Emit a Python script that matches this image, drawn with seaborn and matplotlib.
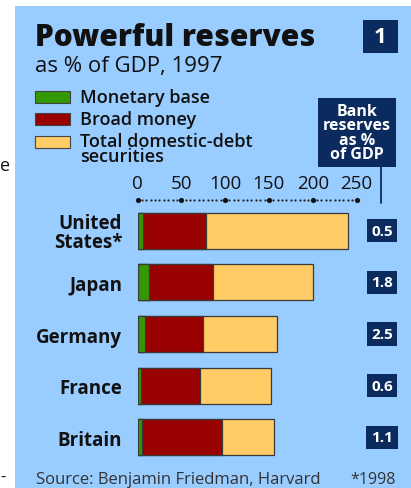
import matplotlib
matplotlib.use("Agg")
import matplotlib.pyplot as plt
import matplotlib.transforms as mtransforms
from matplotlib.patches import Rectangle
import seaborn as sns
import pandas as pd

# ---- data ----
countries = ["United\nStates*", "Japan", "Germany", "France", "Britain"]
monetary_base = [6, 13, 8, 4, 5]
broad_money = [78, 86, 75, 71, 97]
total_debt = [240, 200, 159, 152, 156]
bank_reserves = ["0.5", "1.8", "2.5", "0.6", "1.1"]
ticks = [0, 50, 100, 150, 200, 250]

sns.set_theme(style="white")
plt.rcParams["font.family"] = ["Open Sans", "DejaVu Sans"]

W, H = 411, 489
fig = plt.figure(figsize=(W / 100, H / 100), dpi=100)
fig.patch.set_facecolor("white")

def fx(x):
    return x / W

def fy(y):
    return 1 - y / H

BLUE = "#99ccff"
NAVY = "#0b2a5e"
GREEN = "#339900"
RED = "#990000"
YELLOW = "#ffcc66"
TXT = "#111111"

# panel background
fig.patches.append(Rectangle((fx(15), 0), 1 - fx(15), fy(7), transform=fig.transFigure,
                             facecolor=BLUE, edgecolor="none", zorder=-5))

# stray marks from the page margin
fig.text(fx(0), fy(166), "e", fontsize=13, color=TXT, ha="left", va="center")
fig.text(fx(0), fy(478), "-", fontsize=12, color=TXT, ha="left", va="center")

# title
fig.text(fx(35), fy(38), "Powerful reserves", fontsize=21.5, fontweight="heavy",
         color=TXT, ha="left", va="center")
fig.text(fx(35), fy(67), "as % of GDP, 1997", fontsize=16, color=TXT,
         ha="left", va="center")

# "1" box
fig.patches.append(Rectangle((fx(363), fy(54)), fx(35), (54 - 21) / H,
                             transform=fig.transFigure, facecolor=NAVY,
                             edgecolor="none", zorder=1))
fig.text(fx(380.5), fy(37.5), "1", fontsize=16, fontweight="bold", color="white",
         ha="center", va="center", zorder=2)

# legend
legend_items = [("Monetary base", GREEN, 98), ("Broad money", RED, 120),
                ("Total domestic-debt\nsecurities", YELLOW, 143)]
for label, col, yy in legend_items:
    fig.patches.append(Rectangle((fx(35), fy(yy + 6)), fx(35), 12 / H,
                                 transform=fig.transFigure, facecolor=col,
                                 edgecolor="#444444", linewidth=0.8, zorder=1))
    if "\n" in label:
        fig.text(fx(80), fy(yy - 10), label, fontsize=13, fontweight="semibold",
                 color=TXT, ha="left", va="top", linespacing=0.8)
    else:
        fig.text(fx(80), fy(yy), label, fontsize=13, fontweight="semibold",
                 color=TXT, ha="left", va="center")

# header box for bank reserves
fig.patches.append(Rectangle((fx(318), fy(168)), fx(78), (168 - 99) / H,
                             transform=fig.transFigure, facecolor=NAVY,
                             edgecolor="none", zorder=1))
fig.text(fx(357), fy(133.5), "Bank\nreserves\nas %\nof GDP", fontsize=11.5,
         fontweight="bold", color="white", ha="center", va="center",
         linespacing=0.85, zorder=2)
fig.add_artist(plt.Line2D([fx(381), fx(381)], [fy(168), fy(204)],
                          transform=fig.transFigure, color=NAVY, linewidth=1.3))

# main axes
y_top, y_bot = 205.9, 464.1
ax = fig.add_axes([fx(137.5), fy(y_bot), 250 * 0.876 / W, (y_bot - y_top) / H])
ax.set_facecolor("none")
ax.set_zorder(3)

df = pd.DataFrame({"country": countries, "mb": monetary_base,
                   "bm": broad_money, "td": total_debt})

for col, color in [("td", YELLOW), ("bm", RED), ("mb", GREEN)]:
    sns.barplot(data=df, x=col, y="country", color=color, saturation=1,
                width=0.7, edgecolor="#3a3a3a", linewidth=0.9, ax=ax,
                order=countries)

ax.set_xlim(0, 250)
ax.set_ylim(4.5, -0.5)
for s in ax.spines.values():
    s.set_visible(False)
ax.set_xlabel("")
ax.set_ylabel("")
ax.xaxis.tick_top()
ax.set_xticks(ticks)
ax.set_xticklabels([str(t) for t in ticks], fontsize=13.5, color=TXT)
ax.tick_params(axis="x", length=0, pad=9)
ax.tick_params(axis="y", length=0, pad=11)
for lab in ax.get_yticklabels():
    lab.set_fontsize(13.5)
    lab.set_fontweight("bold")
    lab.set_color(TXT)
    lab.set_linespacing(0.9)

# dotted axis line
trans = mtransforms.blended_transform_factory(ax.transData, ax.transAxes)
dot_y = (y_bot - 201) / (y_bot - y_top)
minor = [v for v in range(0, 251, 5) if v % 50 != 0]
ax.scatter(minor, [dot_y] * len(minor), s=2.5, color="#222222", transform=trans,
           clip_on=False, linewidths=0)
ax.scatter(ticks, [dot_y] * len(ticks), s=14, color="#111111", transform=trans,
           clip_on=False, linewidths=0)

# bank reserves value boxes
trans2 = mtransforms.blended_transform_factory(ax.transAxes, ax.transData)
for i, val in enumerate(bank_reserves):
    ax.text(1.0 + (381.5 - 356) / (250 * 0.876), i, val, transform=trans2,
            fontsize=11, fontweight="bold", color="white", ha="center",
            va="center", clip_on=False,
            bbox=dict(boxstyle="square,pad=0.3", facecolor=NAVY, edgecolor="none"))

# source
fig.text(fx(36), fy(480), "Source: Benjamin Friedman, Harvard", fontsize=12,
         color="#333333", ha="left", va="center")
fig.text(fx(396), fy(480), "*1998", fontsize=11.5, color="#333333",
         ha="right", va="center")

fig.savefig("out.png", dpi=100, facecolor=fig.get_facecolor())
